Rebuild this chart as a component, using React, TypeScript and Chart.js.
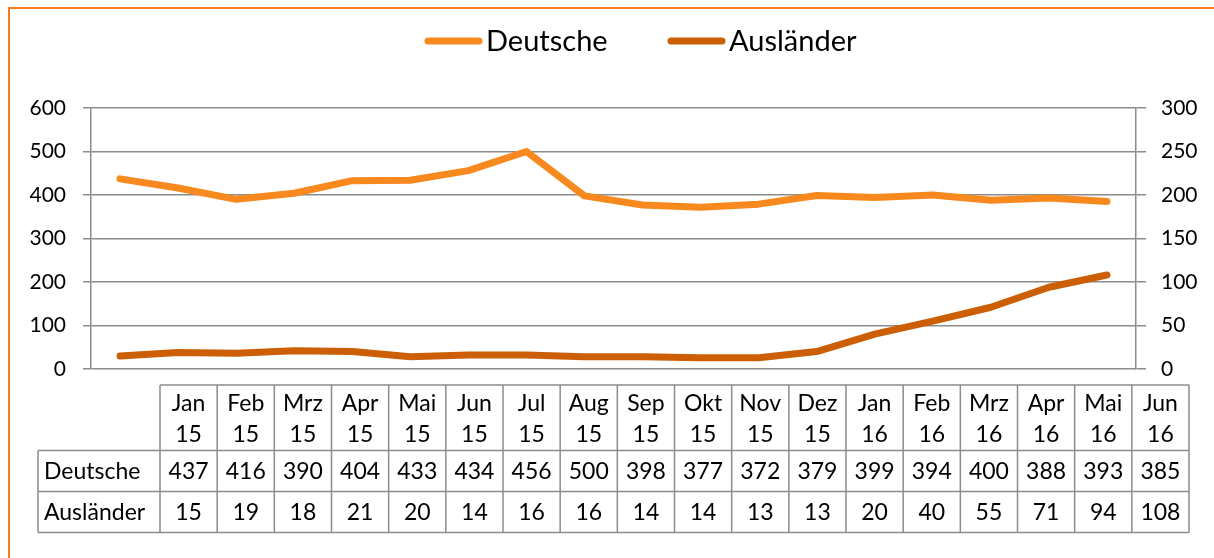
import React, { useEffect, useRef } from 'react';
import { Chart, registerables } from 'chart.js';

Chart.register(...registerables);

const W = 1214;
const H = 558;

// ---- data ----
const categories = ['Jan 15', 'Feb 15', 'Mrz 15', 'Apr 15', 'Mai 15', 'Jun 15', 'Jul 15', 'Aug 15', 'Sep 15', 'Okt 15', 'Nov 15', 'Dez 15', 'Jan 16', 'Feb 16', 'Mrz 16', 'Apr 16', 'Mai 16', 'Jun 16'];
const deutsche = [437, 416, 390, 404, 433, 434, 456, 500, 398, 377, 372, 379, 399, 394, 400, 388, 393, 385];
const auslaender = [15, 19, 18, 21, 20, 14, 16, 16, 14, 14, 13, 13, 20, 40, 55, 71, 94, 108];
const seriesNames = ['Deutsche', 'Ausländer'];
const leftAxis = { min: 0, max: 600, step: 100 };
const rightAxis = { min: 0, max: 300, step: 50 };

// ---- styles ----
const COLOR_DE = '#F7891F';
const COLOR_AU = '#CC5E04';
const GRID = '#8c8c8c';
const FONT = 'Lato, "Open Sans", sans-serif';

const legendPlugin = {
  id: 'customLegend',
  afterDraw(chart: any) {
    const ctx = chart.ctx;
    ctx.save();
    const items = chart.data.datasets.map((d: any, i: number) => ({ label: d.label, color: d.borderColor, x: i === 0 ? 428 : 671 }));
    const y = 41;
    ctx.font = `29px ${FONT}`;
    ctx.textBaseline = 'middle';
    ctx.textAlign = 'left';
    items.forEach((it: any) => {
      ctx.strokeStyle = it.color;
      ctx.lineWidth = 7;
      ctx.lineCap = 'round';
      ctx.beginPath();
      ctx.moveTo(it.x, y);
      ctx.lineTo(it.x + 51, y);
      ctx.stroke();
      ctx.fillStyle = '#000';
      ctx.fillText(it.label, it.x + 58, y + 1);
    });
    ctx.restore();
  },
};

const tablePlugin = {
  id: 'dataTable',
  afterDraw(chart: any) {
    const ctx = chart.ctx;
    const labelLeft = 38;
    const colStart = 160;
    const colEnd = 1189;
    const n = categories.length;
    const colW = (colEnd - colStart) / n;
    const yTop = 385;
    const yR1 = 450.5;
    const yR2 = 491.5;
    const yBot = 532.5;
    ctx.save();
    ctx.strokeStyle = GRID;
    ctx.lineWidth = 1.5;
    ctx.beginPath();
    ctx.moveTo(colStart, yTop); ctx.lineTo(colEnd, yTop);
    ctx.moveTo(labelLeft, yR1); ctx.lineTo(colEnd, yR1);
    ctx.moveTo(labelLeft, yR2); ctx.lineTo(colEnd, yR2);
    ctx.moveTo(labelLeft, yBot); ctx.lineTo(colEnd, yBot);
    ctx.moveTo(labelLeft, yR1); ctx.lineTo(labelLeft, yBot);
    for (let i = 0; i <= n; i++) {
      const x = colStart + i * colW;
      ctx.moveTo(x, yTop); ctx.lineTo(x, yBot);
    }
    ctx.stroke();

    ctx.fillStyle = '#000';
    ctx.font = `23px ${FONT}`;
    ctx.textBaseline = 'middle';
    ctx.textAlign = 'center';
    categories.forEach((c, i) => {
      const cx = colStart + (i + 0.5) * colW;
      const parts = c.split(' ');
      ctx.fillText(parts[0], cx, 404);
      ctx.fillText(parts[1], cx, 435);
      ctx.fillText(String(deutsche[i]), cx, 472);
      ctx.fillText(String(auslaender[i]), cx, 513);
    });
    ctx.textAlign = 'left';
    ctx.fillText(seriesNames[0], 44, 472);
    ctx.fillText(seriesNames[1], 44, 513);
    ctx.restore();
  },
};

export default function App() {
  const ref = useRef<HTMLCanvasElement>(null);

  useEffect(() => {
    if (!ref.current) return;
    const tickFont = { family: FONT, size: 21 };
    const chart = new Chart(ref.current, {
      type: 'line',
      data: {
        labels: categories,
        datasets: [
          {
            label: seriesNames[0],
            data: deutsche,
            borderColor: COLOR_DE,
            backgroundColor: COLOR_DE,
            borderWidth: 7,
            borderCapStyle: 'round',
            borderJoinStyle: 'round',
            pointRadius: 0,
            tension: 0,
            yAxisID: 'y',
          },
          {
            label: seriesNames[1],
            data: auslaender,
            borderColor: COLOR_AU,
            backgroundColor: COLOR_AU,
            borderWidth: 7,
            borderCapStyle: 'round',
            borderJoinStyle: 'round',
            pointRadius: 0,
            tension: 0,
            yAxisID: 'y1',
          },
        ],
      },
      options: {
        responsive: false,
        animation: false,
        devicePixelRatio: 1,
        layout: { padding: { top: 108, left: 0, right: 0, bottom: 0 } },
        plugins: { legend: { display: false }, tooltip: { enabled: false } },
        scales: {
          x: {
            type: 'category',
            offset: true,
            grid: { display: false },
            border: { display: false },
            ticks: { display: false },
            afterFit: (s: any) => { s.height = H - 369; },
          },
          y: {
            position: 'left',
            min: leftAxis.min,
            max: leftAxis.max,
            ticks: { stepSize: leftAxis.step, color: '#000', font: tickFont, padding: 17 },
            grid: { color: GRID, lineWidth: 1.5, tickLength: 8 },
            border: { color: GRID, width: 1.5 },
            afterFit: (s: any) => { s.width = 91; },
          },
          y1: {
            position: 'right',
            min: rightAxis.min,
            max: rightAxis.max,
            ticks: { stepSize: rightAxis.step, color: '#000', font: tickFont, padding: 15 },
            grid: { drawOnChartArea: false, color: GRID, lineWidth: 1.5, tickLength: 10 },
            border: { color: GRID, width: 1.5 },
            afterFit: (s: any) => { s.width = W - 1136; },
          },
        },
      } as any,
      plugins: [legendPlugin, tablePlugin],
    });
    return () => chart.destroy();
  }, []);

  return (
    <div>
      <div
        style={{
          position: 'fixed',
          left: 8,
          top: 7,
          width: 1400,
          height: 800,
          borderTop: '2px solid #F47B20',
          borderLeft: '2px solid #F47B20',
          boxSizing: 'border-box',
        }}
      />
      <canvas ref={ref} width={W} height={H} style={{ position: 'fixed', left: 0, top: 0, width: W, height: H }} />
    </div>
  );
}
